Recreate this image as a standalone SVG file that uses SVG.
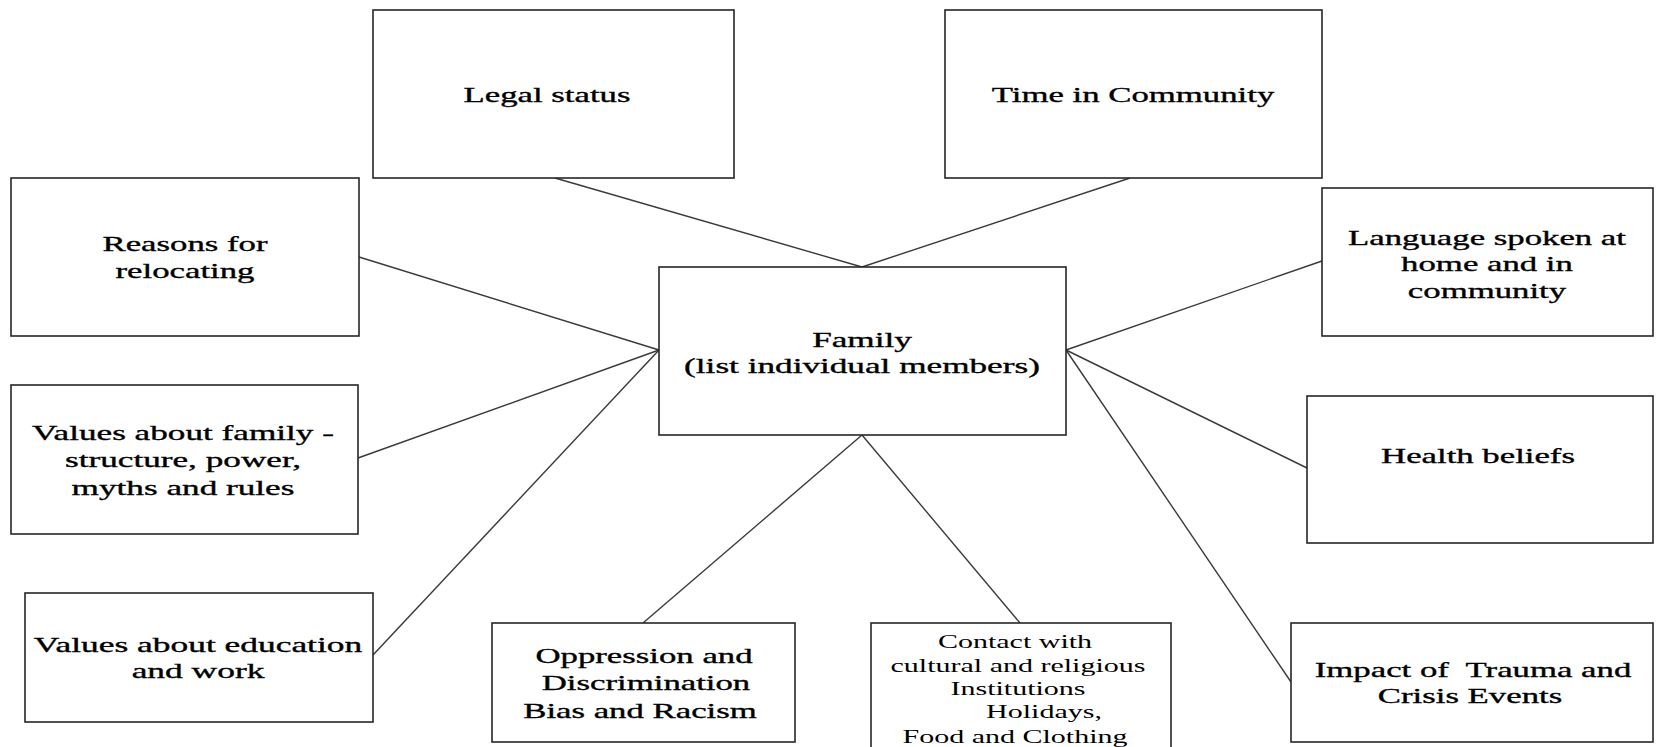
<svg xmlns="http://www.w3.org/2000/svg" width="1656" height="747" viewBox="0 0 1656 747">
<style>
  .box { fill: #ffffff; stroke: #262626; stroke-width: 1.6; }
  .conn line { stroke: #3a3a3a; stroke-width: 1.4; }
  .t { font-family: "Liberation Serif", "Times New Roman", serif; font-size: 22px; fill: #000; text-anchor: middle; stroke: #000; stroke-width: 0.35; }
  .s { font-family: "Liberation Serif", "Times New Roman", serif; font-size: 19px; fill: #000; text-anchor: middle; }
</style>
<rect width="1656" height="747" fill="#ffffff"/>
<g id="connectors" class="conn">
  <line x1="555" y1="178" x2="862" y2="267"/>
  <line x1="1130" y1="178" x2="862" y2="267"/>
  <line x1="359" y1="257" x2="659" y2="350"/>
  <line x1="358" y1="458" x2="659" y2="350"/>
  <line x1="373" y1="655" x2="659" y2="350"/>
  <line x1="643" y1="623" x2="862" y2="435"/>
  <line x1="1020" y1="623" x2="862" y2="435"/>
  <line x1="1322" y1="261" x2="1066" y2="350"/>
  <line x1="1307" y1="468" x2="1066" y2="350"/>
  <line x1="1291" y1="682" x2="1066" y2="350"/>
</g>
<g id="legal">
  <rect class="box" x="373" y="10" width="361" height="168"/>
  <text class="t" transform="translate(547,102) scale(1.58,1)">Legal status</text>
</g>
<g id="time">
  <rect class="box" x="945" y="10" width="377" height="168"/>
  <text class="t" transform="translate(1133,102) scale(1.58,1)">Time in Community</text>
</g>
<g id="reasons">
  <rect class="box" x="11" y="178" width="348" height="158"/>
  <text class="t" transform="translate(185,251) scale(1.58,1)">Reasons for</text>
  <text class="t" transform="translate(185,278) scale(1.58,1)">relocating</text>
</g>
<g id="language">
  <rect class="box" x="1322" y="188" width="331" height="148"/>
  <text class="t" transform="translate(1487,245) scale(1.58,1)">Language spoken at</text>
  <text class="t" transform="translate(1487,271) scale(1.58,1)">home and in</text>
  <text class="t" transform="translate(1487,298) scale(1.58,1)">community</text>
</g>
<g id="family">
  <rect class="box" x="659" y="267" width="407" height="168"/>
  <text class="t" transform="translate(862,347) scale(1.6,1)">Family</text>
  <text class="t" transform="translate(862,373) scale(1.6,1)">(list individual members)</text>
</g>
<g id="values-family">
  <rect class="box" x="11" y="385" width="347" height="149"/>
  <text class="t" transform="translate(183,440) scale(1.6,1)">Values about family -</text>
  <text class="t" transform="translate(183,467) scale(1.6,1)">structure, power,</text>
  <text class="t" transform="translate(183,495) scale(1.6,1)">myths and rules</text>
</g>
<g id="health">
  <rect class="box" x="1307" y="396" width="346" height="147"/>
  <text class="t" transform="translate(1478,463) scale(1.58,1)">Health beliefs</text>
</g>
<g id="values-education">
  <rect class="box" x="25" y="593" width="348" height="129"/>
  <text class="t" transform="translate(198,652) scale(1.61,1)">Values about education</text>
  <text class="t" transform="translate(198,678) scale(1.61,1)">and work</text>
</g>
<g id="oppression">
  <rect class="box" x="492" y="623" width="303" height="119"/>
  <text class="t" transform="translate(644,663) scale(1.58,1)">Oppression and</text>
  <text class="t" transform="translate(646,690) scale(1.58,1)">Discrimination</text>
  <text class="t" transform="translate(640,718) scale(1.58,1)">Bias and Racism</text>
</g>
<g id="contact">
  <rect class="box" x="871" y="623" width="300" height="140"/>
  <text class="s" transform="translate(1015,648) scale(1.58,1)">Contact with</text>
  <text class="s" transform="translate(1018,672) scale(1.58,1)">cultural and religious</text>
  <text class="s" transform="translate(1018,695) scale(1.58,1)">Institutions</text>
  <text class="s" transform="translate(1044,718) scale(1.58,1)">Holidays,</text>
  <text class="s" transform="translate(1015,743) scale(1.58,1)">Food and Clothing</text>
</g>
<g id="impact">
  <rect class="box" x="1291" y="623" width="362" height="119"/>
  <text class="t" xml:space="preserve" transform="translate(1473,677) scale(1.58,1)">Impact of  Trauma and</text>
  <text class="t" transform="translate(1470,703) scale(1.58,1)">Crisis Events</text>
</g>
</svg>
